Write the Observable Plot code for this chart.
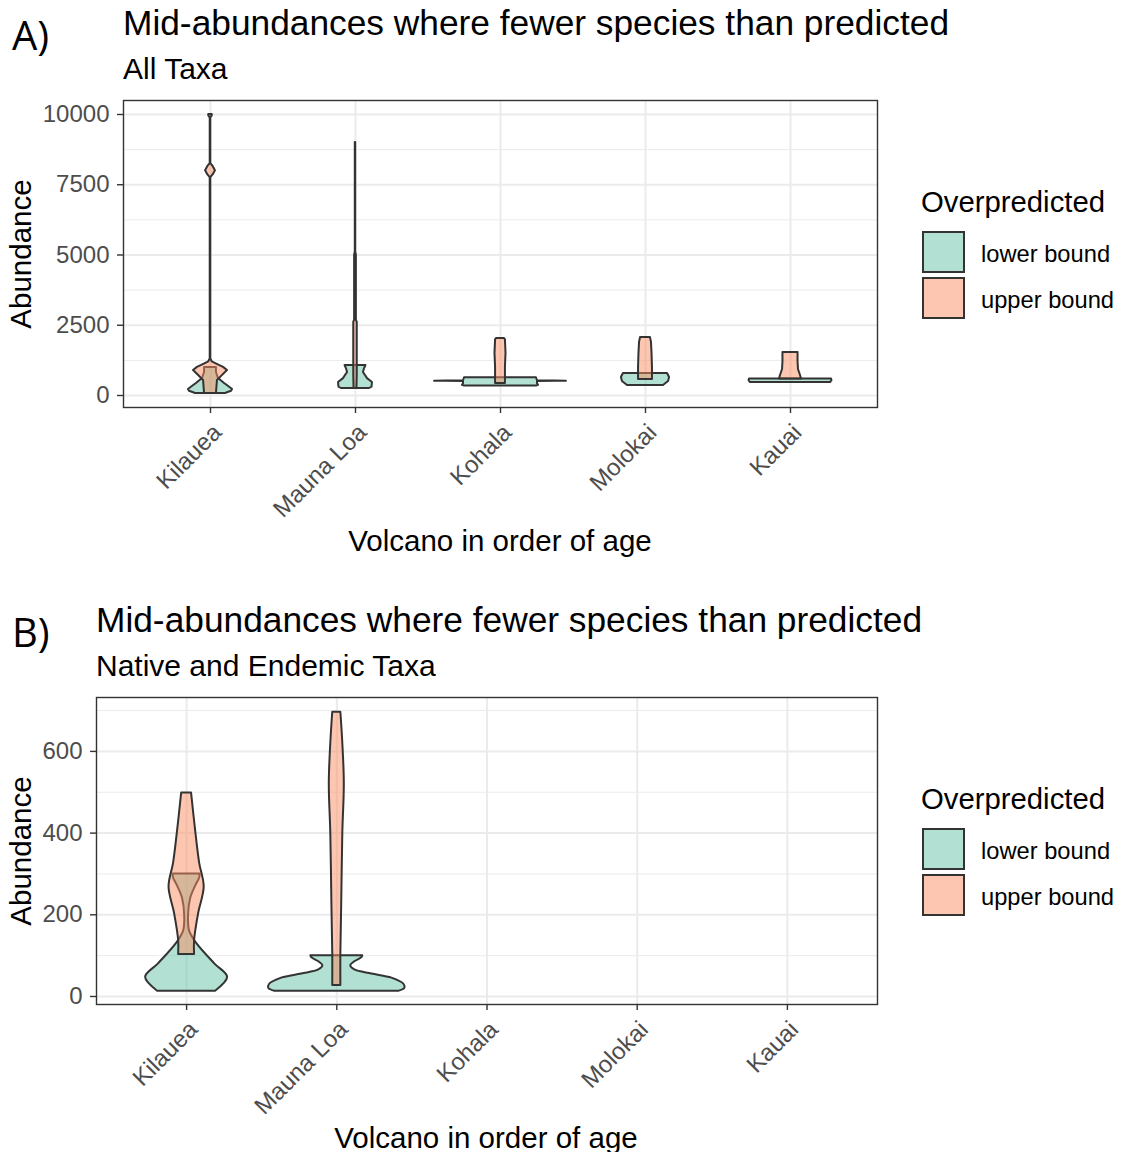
<!DOCTYPE html>
<html>
<head>
<meta charset="utf-8">
<script src="https://cdn.jsdelivr.net/npm/d3@7"></script>
<script src="https://cdn.jsdelivr.net/npm/@observablehq/plot@0.6"></script>
<style>
  html, body { margin: 0; padding: 0; background: #fff; }
  body { width: 1122px; height: 1152px; overflow: hidden; position: relative;
         font-family: "Liberation Sans", Arial, sans-serif; color: #000; }
  .t { position: absolute; white-space: nowrap; line-height: 1; }
  .panel-tag { font-family: "Open Sans", sans-serif; font-size: 40px; }
  .title { font-size: 35.3px; }
  .subtitle { font-size: 30px; }
  .axis-title { font-size: 29.5px; }
  .ylab { transform-origin: center center; transform: translate(-50%, -50%) rotate(-90deg); }
  .legend-title { font-size: 29.3px; }
  .legend-label { font-size: 23.7px; }
  .key { position: absolute; width: 39px; height: 38px; border: 2px solid #333; }
  .chart { position: absolute; }
</style>
</head>
<body>
<script>
// Volcanoes ordered from youngest to oldest, and the two prediction bounds
const volcanoes = ["Kilauea", "Mauna Loa", "Kohala", "Molokai", "Kauai"];
const bounds = ["lower bound", "upper bound"];
const boundColors = ["#66C2A5", "#FC8D62"];

// Violin profiles: [abundance, half-width of the density in category units]
// Panel A: all taxa
const allKilaueaLower = [[71, 0.103], [150, 0.145], [214, 0.152], [300, 0.130], [427, 0.097], [605, 0.055], [819, 0.041], [996, 0.041]];
const allKilaueaUpper = [[71, 0.041], [534, 0.048], [700, 0.080], [890, 0.117], [1000, 0.090], [1100, 0.050], [1200, 0.012], [1300, 0.002],
  [7750, 0.002], [7850, 0.018], [8000, 0.034], [8150, 0.018], [8250, 0.002], [9880, 0.002], [9950, 0.012], [10000, 0.012]];
const allMaunaLoaLower = [[249, 0.097], [300, 0.114], [463, 0.117], [600, 0.083], [819, 0.055], [950, 0.062], [1068, 0.072]];
const allMaunaLoaUpper = [[250, 0.010], [700, 0.012], [2600, 0.012], [2680, 0.006], [5000, 0.006], [5100, 0.0015], [9000, 0.0015]];
const allKohalaLower = [[340, 0.248], [360, 0.262], [420, 0.255], [495, 0.255], [503, 0.379], [509, 0.455], [515, 0.379], [523, 0.255], [630, 0.248]];
const allKohalaUpper = [[427, 0.034], [1000, 0.034], [1500, 0.038], [1980, 0.034], [2028, 0.028]];
const allMolokaiLower = [[356, 0.124], [500, 0.159], [640, 0.166], [783, 0.152]];
const allMolokaiUpper = [[569, 0.048], [1000, 0.048], [1500, 0.045], [1900, 0.041], [2064, 0.034]];
const allKauaiLower = [[460, 0.276], [525, 0.286], [590, 0.283]];
const allKauaiUpper = [[590, 0.076], [712, 0.069], [925, 0.055], [1200, 0.052], [1530, 0.052]];

// Panel B: native and endemic taxa (no violins for the three older volcanoes)
const nativeKilaueaLower = [[13, 0.193], [47, 0.273], [80, 0.187], [130, 0.067], [160, 0.020], [200, 0.013],
  [240, 0.027], [270, 0.060], [290, 0.087], [300, 0.090]];
const nativeKilaueaUpper = [[103, 0.053], [137, 0.053], [203, 0.080], [268, 0.117], [326, 0.087], [406, 0.060], [498, 0.033]];
const nativeMaunaLoaLower = [[13, 0.413], [20, 0.453], [30, 0.447], [45, 0.367], [55, 0.233], [65, 0.120],
  [75, 0.093], [85, 0.120], [95, 0.167], [100, 0.173]];
const nativeMaunaLoaUpper = [[27, 0.027], [105, 0.027], [235, 0.033], [399, 0.040], [521, 0.050], [620, 0.040], [696, 0.027]];

// Axis ticks
const yTicksA = [0, 2500, 5000, 7500, 10000];
const yMinorA = [1250, 3750, 6250, 8750];
const yTicksB = [0, 200, 400, 600];
const yMinorB = [100, 300, 500, 700];

const allTaxa = [
  ["Kilauea", "lower bound", allKilaueaLower], ["Kilauea", "upper bound", allKilaueaUpper],
  ["Mauna Loa", "lower bound", allMaunaLoaLower], ["Mauna Loa", "upper bound", allMaunaLoaUpper],
  ["Kohala", "lower bound", allKohalaLower], ["Kohala", "upper bound", allKohalaUpper],
  ["Molokai", "lower bound", allMolokaiLower], ["Molokai", "upper bound", allMolokaiUpper],
  ["Kauai", "lower bound", allKauaiLower], ["Kauai", "upper bound", allKauaiUpper]
];
const nativeTaxa = [
  ["Kilauea", "lower bound", nativeKilaueaLower], ["Kilauea", "upper bound", nativeKilaueaUpper],
  ["Mauna Loa", "lower bound", nativeMaunaLoaLower], ["Mauna Loa", "upper bound", nativeMaunaLoaUpper]
];

// Flatten the violins into rows; x is the volcano's position 1..5
function violinRows(table) {
  return table.flatMap(([volcano, bound, profile]) =>
    profile.map(([abundance, half]) => ({
      volcano, bound, key: volcano + "|" + bound,
      pos: volcanoes.indexOf(volcano) + 1, abundance, half
    })));
}

function violinPanel({rows, yDomain, ticks, minor, marginLeft, curve}) {
  const positions = volcanoes.map((d, i) => i + 1);
  return Plot.plot({
    width: 890,
    height: 447,
    marginLeft,
    marginRight: 13,
    marginTop: 10,
    marginBottom: 130,
    style: {fontFamily: '"Liberation Sans", Arial, sans-serif', background: "transparent", overflow: "visible"},
    x: {domain: [0.4, 5.6]},
    y: {domain: yDomain},
    color: {domain: bounds, range: boundColors},
    marks: [
      Plot.ruleY(minor, {stroke: "#ebebeb", strokeWidth: 1}),
      Plot.ruleY(ticks, {stroke: "#ebebeb", strokeWidth: 2}),
      Plot.ruleX(positions, {stroke: "#ebebeb", strokeWidth: 2}),
      Plot.areaX(rows, {
        y: "abundance",
        x1: d => d.pos - d.half,
        x2: d => d.pos + d.half,
        z: "key",
        fill: "bound",
        fillOpacity: 0.5,
        stroke: "#333",
        strokeWidth: 2,
        strokeLinejoin: "round",
        curve
      }),
      Plot.frame({stroke: "#333", strokeWidth: 1.4}),
      Plot.axisY({ticks, tickSize: 6, tickPadding: 8, fontSize: 24, fill: "#4d4d4d",
        stroke: "#333", strokeWidth: 1.4, tickFormat: d => String(d), label: null}),
      Plot.axisX({ticks: positions, tickSize: 6, text: null, stroke: "#333", strokeWidth: 1.4, label: null}),
      Plot.axisX({ticks: positions, tickSize: 0, tickPadding: 10, fontSize: 24, fill: "#4d4d4d",
        tickRotate: -45, dx: 7, dy: 11, tickFormat: i => volcanoes[i - 1], label: null})
    ]
  });
}

function addText(cls, text, left, top, extra = {}) {
  const el = document.createElement("div");
  el.className = "t " + cls;
  el.textContent = text;
  el.style.left = left + "px";
  el.style.top = top + "px";
  Object.assign(el.style, extra);
  document.body.appendChild(el);
  return el;
}

function addLegend(top) {
  addText("legend-title", "Overpredicted", 921, top);
  bounds.forEach((b, i) => {
    const key = document.createElement("div");
    key.className = "key";
    key.style.left = "922px";
    key.style.top = (top + 44 + i * 46) + "px";
    const c = d3.color(boundColors[i]);
    key.style.background = `rgba(${c.r},${c.g},${c.b},0.5)`;
    document.body.appendChild(key);
    addText("legend-label", b, 981, top + 56 + i * 46);
  });
}

function addPanel({tag, subtitle, rows, yDomain, ticks, minor, marginLeft, top, titleLeft, xTitleCenter, curve}) {
  addText("panel-tag", tag, 12, top - 85);
  addText("title", "Mid-abundances where fewer species than predicted", titleLeft, top - 95);
  addText("subtitle", subtitle, titleLeft, top - 46);
  const chart = violinPanel({rows, yDomain, ticks, minor, marginLeft, curve});
  chart.classList.add("chart");
  chart.style.left = "0px";
  chart.style.top = (top - 10) + "px";
  document.body.appendChild(chart);
  addText("axis-title ylab", "Abundance", 20.7, top + 154);
  const xt = addText("axis-title", "Volcano in order of age", xTitleCenter, top + 426);
  xt.style.transform = "translateX(-50%)";
  addLegend(top + 87);
}

addPanel({
  tag: "A)", subtitle: "All Taxa", rows: violinRows(allTaxa),
  yDomain: [-427, 10498], ticks: yTicksA, minor: yMinorA,
  marginLeft: 123, top: 100, titleLeft: 123, xTitleCenter: 500, curve: "linear"
});
addPanel({
  tag: "B)", subtitle: "Native and Endemic Taxa", rows: violinRows(nativeTaxa),
  yDomain: [-19.6, 732], ticks: yTicksB, minor: yMinorB,
  marginLeft: 96, top: 697, titleLeft: 96, xTitleCenter: 486, curve: "catmull-rom"
});
</script>
</body>
</html>
